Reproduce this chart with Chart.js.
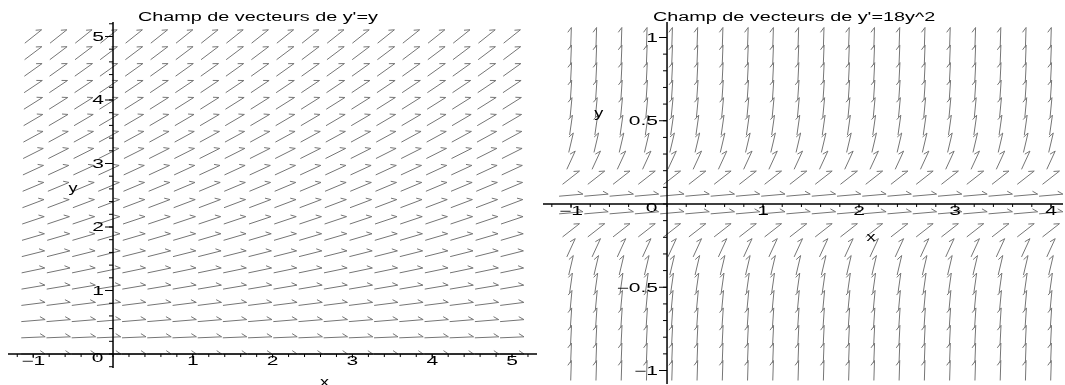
<!DOCTYPE html>
<html>
<head>
<meta charset="utf-8">
<script src="https://cdn.jsdelivr.net/npm/chart.js@4.4.1/dist/chart.umd.min.js"></script>
<style>
  html, body { margin: 0; padding: 0; background: #fff; }
  #wrap { position: relative; width: 1065px; height: 385px; overflow: hidden; }
  #left { position: absolute; left: 0; top: 0; }
  #right { position: absolute; left: 540px; top: 0; }
</style>
</head>
<body>
<div id="wrap">
  <canvas id="left" width="540" height="385"></canvas>
  <canvas id="right" width="525" height="385"></canvas>
</div>
<script>
// left field: y' = y  (grid columns, grid rows, drawn slope of each row)
const leftX = [-1, -0.684, -0.368, -0.053, 0.263, 0.579, 0.895, 1.211, 1.526, 1.842,
               2.158, 2.474, 2.789, 3.105, 3.421, 3.737, 4.053, 4.368, 4.684, 5];
const leftY = [0, 0.263, 0.526, 0.789, 1.053, 1.316, 1.579, 1.842, 2.105, 2.368,
               2.632, 2.895, 3.158, 3.421, 3.684, 3.947, 4.211, 4.474, 4.737, 5];
const leftSlope = [0, 0.053, 0.105, 0.158, 0.211, 0.263, 0.316, 0.368, 0.421, 0.474,
                   0.526, 0.579, 0.632, 0.684, 0.737, 0.789, 0.842, 0.895, 0.947, 1];
const leftXTicks = [-1, 1, 2, 3, 4, 5];
const leftYTicks = [1, 2, 3, 4, 5];

// right field: y' = 18y^2
const rightX = [-1, -0.737, -0.474, -0.211, 0.053, 0.316, 0.579, 0.842, 1.105, 1.368,
                1.632, 1.895, 2.158, 2.421, 2.684, 2.947, 3.211, 3.474, 3.737, 4];
const rightY = [-1, -0.895, -0.789, -0.684, -0.579, -0.474, -0.368, -0.263, -0.158, -0.053,
                0.053, 0.158, 0.263, 0.368, 0.474, 0.579, 0.684, 0.789, 0.895, 1];
const rightSlope = [18, 14.41, 11.21, 8.42, 6.03, 4.04, 2.44, 1.25, 0.45, 0.05,
                    0.05, 0.45, 1.25, 2.44, 4.04, 6.03, 8.42, 11.21, 14.41, 18];
const rightXTicks = [-1, 1, 2, 3, 4];
const rightYTicks = [-1, -0.5, 0.5, 1];

const FONT = '12px "Liberation Sans", Arial, sans-serif';

function gridPoints(xs, ys, slopes) {
    const pts = [];
    ys.forEach((y, j) => {
        xs.forEach(x => pts.push({ x: x, y: y, s: slopes[j] }));
    });
    return pts;
}

function fmt(v) {
    return String(v).replace('-', '\u2212');
}

// maple output is stretched sideways, so text is drawn wide
function wideText(ctx, s, x, y, align, sx) {
    ctx.save();
    ctx.translate(x, y);
    ctx.scale(sx, 1);
    ctx.textAlign = align;
    ctx.fillText(s, 0, 0);
    ctx.restore();
}

const maplePlugin = {
    id: 'maple',
    afterDatasetsDraw(chart, args, opts) {
        const ctx = chart.ctx;
        const xs = chart.scales.x, ys = chart.scales.y;
        const area = chart.chartArea;
        const ox = xs.getPixelForValue(0), oy = ys.getPixelForValue(0);
        const ux = xs.getPixelForValue(1) - ox;

        // arrows, one per grid point
        const meta = chart.getDatasetMeta(0);
        const raw = chart.data.datasets[0].data;
        ctx.save();
        ctx.strokeStyle = '#757575';
        ctx.lineWidth = 1;
        meta.data.forEach((el, i) => {
            const uy = oy - ys.getPixelForValue(raw[i].s);
            const a = Math.atan2(uy, ux);
            const len = 20 + 4 * Math.pow(Math.cos(a), 4);
            const c = Math.cos(a), s = Math.sin(a);
            const tx = el.x + c * len / 2, ty = el.y - s * len / 2;
            const ba = a + Math.PI - 0.6;
            ctx.beginPath();
            ctx.moveTo(el.x - c * len / 2, el.y + s * len / 2);
            ctx.lineTo(tx, ty);
            ctx.lineTo(tx + Math.cos(ba) * 6, ty - Math.sin(ba) * 6);
            ctx.stroke();
        });
        ctx.restore();

        // axes through the origin
        ctx.save();
        ctx.strokeStyle = '#000';
        ctx.lineWidth = 1.5;
        ctx.beginPath();
        ctx.moveTo(area.left, oy); ctx.lineTo(area.right, oy);
        ctx.moveTo(ox, area.top); ctx.lineTo(ox, area.bottom);
        ctx.stroke();

        ctx.lineWidth = 1;
        ctx.beginPath();
        for (let v = opts.xMinor[0]; v <= opts.xMinor[1] + 1e-9; v += opts.xMinor[2]) {
            const px = xs.getPixelForValue(v);
            ctx.moveTo(px, oy); ctx.lineTo(px, oy + 3);
        }
        for (let v = opts.yMinor[0]; v <= opts.yMinor[1] + 1e-9; v += opts.yMinor[2]) {
            const py = ys.getPixelForValue(v);
            ctx.moveTo(ox - 4, py); ctx.lineTo(ox, py);
        }
        opts.xTicks.forEach(v => {
            const px = xs.getPixelForValue(v);
            ctx.moveTo(px, oy); ctx.lineTo(px, oy + 4);
        });
        opts.yTicks.forEach(v => {
            const py = ys.getPixelForValue(v);
            ctx.moveTo(ox - 8, py); ctx.lineTo(ox, py);
        });
        ctx.stroke();

        ctx.fillStyle = '#000';
        ctx.font = FONT;
        ctx.textBaseline = 'middle';
        opts.xTicks.forEach(v => {
            wideText(ctx, fmt(v), xs.getPixelForValue(v), oy + 8, 'center', 1.75);
        });
        opts.yTicks.forEach(v => {
            wideText(ctx, fmt(v), ox - 9, ys.getPixelForValue(v) + 1, 'right', 1.75);
        });
        wideText(ctx, '0', ox - 15.5, oy + 4.5, 'center', 1.75);

        // axis names
        wideText(ctx, 'x', xs.getPixelForValue(opts.xName[0]), ys.getPixelForValue(opts.xName[1]), 'center', 1.5);
        wideText(ctx, 'y', xs.getPixelForValue(opts.yName[0]), ys.getPixelForValue(opts.yName[1]), 'center', 1.5);

        // title
        ctx.textBaseline = 'alphabetic';
        wideText(ctx, opts.title, opts.titleX, 21, 'left', 1.65);
        ctx.restore();
    }
};

function makeChart(id, xs, ys, slopes, cfg) {
    return new Chart(document.getElementById(id), {
        type: 'scatter',
        data: {
            datasets: [{
                data: gridPoints(xs, ys, slopes),
                pointRadius: 0,
                pointHoverRadius: 0
            }]
        },
        options: {
            responsive: false,
            animation: false,
            events: [],
            layout: { padding: cfg.padding },
            plugins: {
                legend: { display: false },
                tooltip: { enabled: false },
                maple: cfg.maple
            },
            scales: {
                x: { type: 'linear', min: cfg.xMin, max: cfg.xMax, display: false },
                y: { type: 'linear', min: cfg.yMin, max: cfg.yMax, display: false }
            }
        },
        plugins: [maplePlugin]
    });
}

makeChart('left', leftX, leftY, leftSlope, {
    padding: { left: 8, right: 3, top: 22, bottom: 17 },
    xMin: -1.316, xMax: 5.313, yMin: -0.22, yMax: 5.228,
    maple: {
        title: "Champ de vecteurs de y'=y",
        titleX: 138,
        xTicks: leftXTicks,
        yTicks: leftYTicks,
        xMinor: [-1.2, 5.2, 0.2],
        yMinor: [-0.2, 5.2, 0.2],
        xName: [2.65, -0.45],
        yName: [-0.5, 2.6]
    }
});

makeChart('right', rightX, rightY, rightSlope, {
    padding: { left: 3, right: 2, top: 22, bottom: 1 },
    xMin: -1.292, xMax: 4.125, yMin: -1.081, yMax: 1.093,
    maple: {
        title: "Champ de vecteurs de y'=18y^2",
        titleX: 113,
        xTicks: rightXTicks,
        yTicks: rightYTicks,
        xMinor: [-1.2, 4.0, 0.2],
        yMinor: [-1.0, 1.0, 0.1],
        xName: [2.125, -0.2],
        yName: [-0.71, 0.545]
    }
});
</script>
</body>
</html>
